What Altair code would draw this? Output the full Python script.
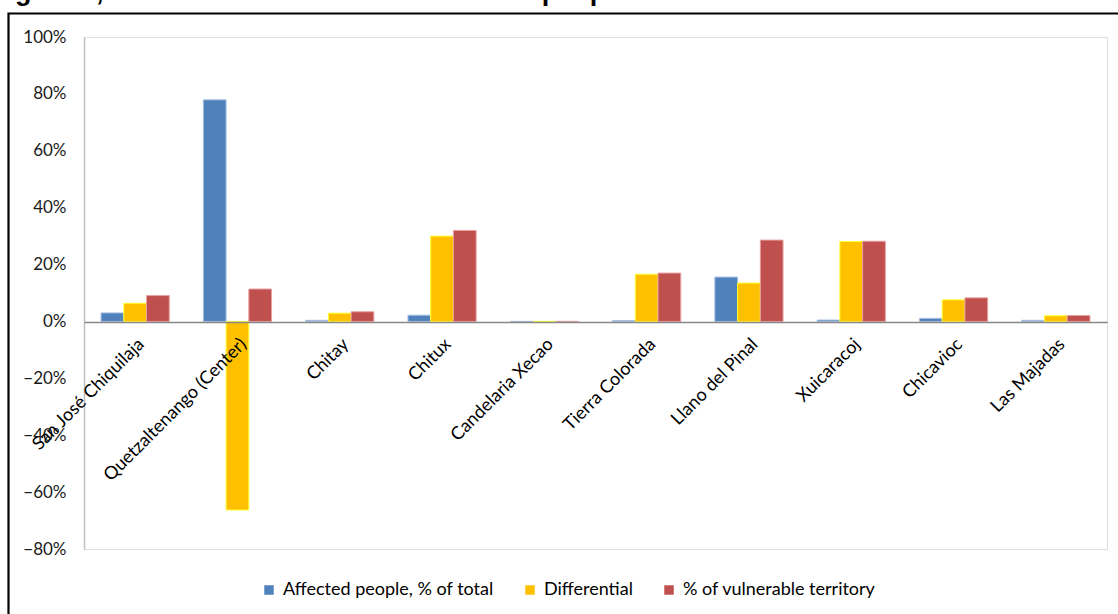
import altair as alt
import pandas as pd

categories = ["San José Chiquilaja", "Quetzaltenango (Center)", "Chitay", "Chitux",
              "Candelaria Xecao", "Tierra Colorada", "Llano del Pinal", "Xuicaracoj",
              "Chicavioc", "Las Majadas"]
series = ["Affected people, % of total", "Differential", "% of vulnerable territory"]
affected = [0.030, 0.779, 0.004, 0.022, 0.0, 0.003, 0.156, 0.005, 0.011, 0.004]
differential = [0.064, -0.663, 0.029, 0.300, 0.0, 0.166, 0.135, 0.281, 0.076, 0.020]
vulnerable = [0.091, 0.114, 0.034, 0.320, 0.0, 0.170, 0.286, 0.282, 0.083, 0.021]
y_ticks = [-0.8, -0.6, -0.4, -0.2, 0.0, 0.2, 0.4, 0.6, 0.8, 1.0]
colors = ["#4F81BD", "#FFC000", "#C0504D"]
strokes = ["#A9C1E0", "#FFFF33", "#E8A0A0"]
title_text = "Figure 7, Difference between % of affected people and % of vulnerable territories"

rows = []
for i, c in enumerate(categories):
    for s, vals in zip(series, [affected, differential, vulnerable]):
        rows.append({"cat": c, "series": s, "value": vals[i]})
df = pd.DataFrame(rows)

FONT = "Lato"
W, H = 1023, 512
PL, PT = 84, 37

xscale = alt.Scale(domain=categories, paddingInner=1/3, paddingOuter=1/6)
yscale = alt.Scale(domain=[-0.8, 1.0], nice=False, zero=False)

base = alt.Chart(df)

bars = base.mark_bar(strokeWidth=1).encode(
    x=alt.X("cat:N", scale=xscale, sort=categories,
            axis=alt.Axis(title=None, orient="bottom", offset=-227, labelAngle=-45,
                          labelAlign="right", labelBaseline="top", ticks=False,
                          domain=True, domainColor="#888888", domainWidth=1.5,
                          labelFont=FONT, labelFontSize=18, labelColor="#000000",
                          labelPadding=13, labelOverlap=False, labelLimit=0,
                          zindex=1)),
    xOffset=alt.XOffset("series:N", sort=series, scale=alt.Scale(domain=series)),
    y=alt.Y("value:Q", scale=yscale,
            axis=alt.Axis(title=None, values=y_ticks, format=".0%", grid=False,
                          ticks=False, domainColor="#BFBFBF", domainWidth=1.5,
                          labelFont=FONT, labelFontSize=17, labelColor="#1a1a1a",
                          labelPadding=18)),
    color=alt.Color("series:N", sort=series,
                    scale=alt.Scale(domain=series, range=colors),
                    legend=alt.Legend(title=None, orient="none", direction="horizontal",
                                      legendX=176, legendY=544, symbolType="square",
                                      symbolSize=90, symbolStrokeWidth=0,
                                      labelFont=FONT, labelFontSize=18,
                                      labelColor="#000000", columnPadding=27,
                                      labelOffset=5, labelLimit=0)),
    stroke=alt.Stroke("series:N", sort=series,
                      scale=alt.Scale(domain=series, range=strokes), legend=None),
)

title = alt.Chart(alt.Data(values=[{"t": title_text}])).mark_text(
    font="Liberation Sans", fontWeight="bold", fontSize=27, align="left",
    baseline="alphabetic", color="#000000"
).encode(text="t:N", x=alt.value(-PL - 9), y=alt.value(0 - PT))

border = alt.Chart(alt.Data(values=[{"a": 1}])).mark_rect(
    fill=None, stroke="#000000", strokeWidth=2.2
).encode(x=alt.value(8.5 - PL), x2=alt.value(1118 - PL + 20),
         y=alt.value(13.5 - PT), y2=alt.value(614 - PT + 20))

chart = alt.layer(bars, title, border).properties(
    width=W, height=H,
    autosize=alt.AutoSizeParams(type="none"),
    padding={"left": PL, "top": PT, "right": 1118 - PL - W, "bottom": 614 - PT - H},
).configure_view(stroke=None).configure(background="white")

chart.save("out.html", embed_options={"renderer": "svg", "actions": False})
